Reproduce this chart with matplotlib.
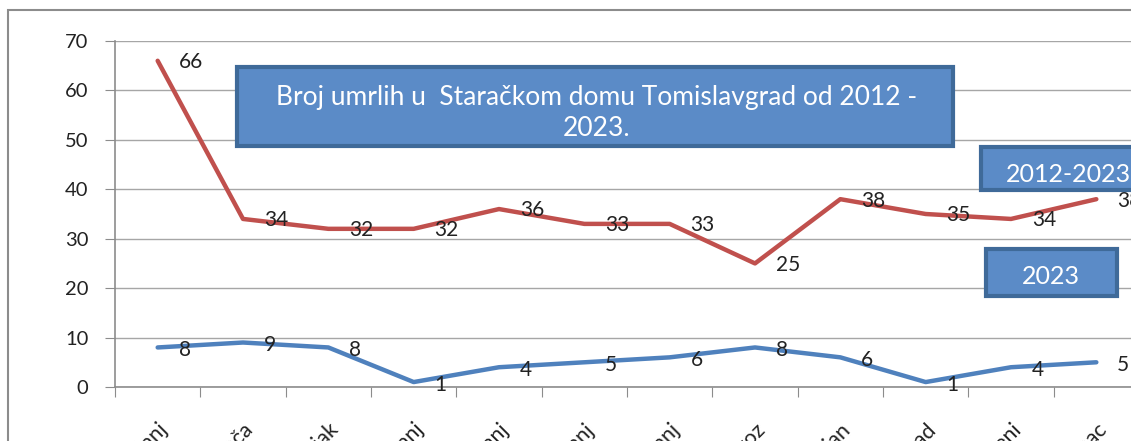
import matplotlib
matplotlib.use("Agg")
import matplotlib.pyplot as plt
from matplotlib.patches import Rectangle

months = ["siječanj", "veljača", "ožujak", "travanj", "svibanj", "lipanj",
          "srpanj", "kolovoz", "rujan", "listopad", "studeni", "prosinac"]
total_2012_2023 = [66, 34, 32, 32, 36, 33, 33, 25, 38, 35, 34, 38]
year_2023 = [8, 9, 8, 1, 4, 5, 6, 8, 6, 1, 4, 5]

FONT = ["Lato", "DejaVu Sans"]
plt.rcParams["font.family"] = FONT

W, H = 1131, 441
fig = plt.figure(figsize=(W / 100, H / 100), dpi=100)

# outer chart frame (extends past right/bottom edges)
fig.patches.append(Rectangle((8 / W, -0.1), 1.2, (H - 10) / H + 0.1,
                             transform=fig.transFigure, fill=False,
                             edgecolor="#8c8c8c", linewidth=1.5))

x0, x1 = 115 / W, 1139 / W
y0, y1 = (H - 387) / H, (H - 41) / H
ax = fig.add_axes([x0, y0, x1 - x0, y1 - y0])
ax.set_facecolor("none")

xs = list(range(len(months)))
red = "#C0504D"
blue = "#4F81BD"
ax.plot(xs, total_2012_2023, color=red, linewidth=3.2, solid_capstyle="round",
        zorder=3)
ax.plot(xs, year_2023, color=blue, linewidth=3.2, solid_capstyle="round",
        zorder=3)

for x, v in zip(xs, total_2012_2023):
    ax.annotate(str(v), (x, v), xytext=(15, -1), textcoords="offset points",
                ha="left", va="center", fontsize=15, color="#222222",
                annotation_clip=False, zorder=4)
for x, v in zip(xs, year_2023):
    ax.annotate(str(v), (x, v), xytext=(15, -2), textcoords="offset points",
                ha="left", va="center", fontsize=15, color="#222222",
                annotation_clip=False, zorder=4)

ax.set_xlim(-0.5, len(months) - 0.5)
ax.set_ylim(0, 70)
ax.set_yticks(range(0, 71, 10))
ax.set_xticks([i - 0.5 for i in range(len(months) + 1)], minor=False)
ax.set_xticklabels([])
ax.set_xticks(xs, minor=True)
ax.set_xticklabels(months, minor=True, rotation=45, ha="right",
                   va="top", rotation_mode="anchor", fontsize=15.5,
                   color="#222222")
ax.tick_params(axis="x", which="minor", length=0, pad=23)
ax.tick_params(axis="x", which="major", length=7, color="#8c8c8c",
               direction="out")
ax.tick_params(axis="y", length=7, color="#8c8c8c", direction="out",
               labelsize=14.5, labelcolor="#222222", pad=12)
ax.grid(axis="y", color="#a6a6a6", linewidth=1.0, zorder=0)
for s in ["top", "right"]:
    ax.spines[s].set_visible(False)
for s in ["left", "bottom"]:
    ax.spines[s].set_color("#8c8c8c")
    ax.spines[s].set_linewidth(1.2)

box_face = "#5B8BC7"
box_edge = "#3F6A99"

def add_box(l, t, r, b):
    fig.patches.append(Rectangle((l / W, (H - b) / H), (r - l) / W, (b - t) / H,
                                 transform=fig.transFigure, facecolor=box_face,
                                 edgecolor=box_edge, linewidth=3, zorder=5))

add_box(237, 67, 953, 146)
fig.text(597 / W, (H - 97) / H,
         "Broj umrlih u  Staračkom domu Tomislavgrad od 2012 -",
         ha="center", va="center", color="white", fontsize=19, zorder=6)
fig.text(597 / W, (H - 129) / H, "2023.",
         ha="center", va="center", color="white", fontsize=19, zorder=6)

add_box(981, 147, 1150, 190)
fig.text(1068 / W, (H - 175) / H, "2012-2023", ha="center", va="center",
         color="white", fontsize=18, zorder=6)

add_box(986, 249, 1117, 296)
fig.text(1051 / W, (H - 276) / H, "2023", ha="center", va="center",
         color="white", fontsize=18, zorder=6)

fig.savefig("out.png", dpi=100)
